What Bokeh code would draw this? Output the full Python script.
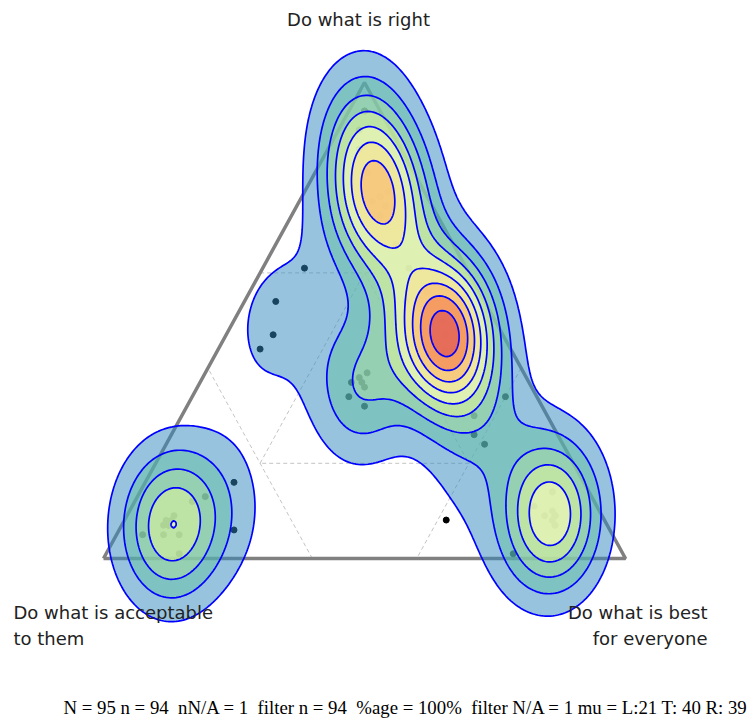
import numpy as np
from bokeh.plotting import figure
from bokeh.models import Range1d
from bokeh.embed import file_html
from bokeh.resources import INLINE
from bokeh.core.properties import value

# ---- data: one response per entry (percent of L / T / R) ----
L_pct = [74, 77, 82, 83, 84, 85, 84, 90, 86, 83, 85,
         84, 84,
         67, 72,
         31, 40, 44, 48,
         30,
         30, 32, 32, 34, 32, 34, 36,
         6, 14, 16, 15, 21,
         11, 9, 9, 10, 12,
         9, 9, 9, 9, 7, 7, 10, 10, 10,
         3, 3, 6, 6, 8, 8, 9, 9, 9, 9, 9, 9, 9, 9, 9, 11, 11, 11, 7, 7,
         11, 11, 11, 10, 15, 9, 10,
         11, 11, 11, 11, 11, 11, 11, 11, 11, 11, 10, 10, 10, 11, 11, 11, 11, 13, 13, 8, 8]
T_pct = [13, 12, 9, 8, 8, 7, 7, 5, 5, 5, 1,
         7, 7,
         16, 6,
         61, 54, 47, 44,
         8,
         39, 38, 37, 37, 36, 32, 34,
         34, 30, 26, 24, 1,
         9, 10, 9, 8, 11,
         9, 9, 9, 9, 14, 14, 7, 7, 8,
         94, 94, 90, 90, 86, 86, 81, 81, 81, 76, 76, 76, 76, 76, 76, 72, 72, 75, 77, 77,
         66, 66, 61, 56, 54, 74, 56,
         47, 47, 47, 47, 47, 47, 47, 47, 47, 47, 50, 50, 50, 44, 44, 44, 44, 44, 44, 48, 48]
R_pct = [13, 11, 9, 9, 8, 8, 9, 5, 9, 12, 14,
         9, 9,
         17, 22,
         8, 6, 9, 8,
         61,
         31, 30, 31, 29, 32, 34, 30,
         60, 56, 58, 61, 78,
         80, 81, 82, 82, 77,
         82, 82, 82, 82, 79, 79, 83, 83, 82,
         3, 3, 4, 4, 6, 6, 10, 10, 10, 15, 15, 15, 15, 15, 15, 17, 17, 14, 16, 16,
         23, 23, 28, 34, 31, 17, 34,
         42, 42, 42, 42, 42, 42, 42, 42, 42, 42, 40, 40, 40, 46, 46, 46, 45, 44, 44, 44, 44]

corner_labels = ["Do what is right", "Do what is acceptable", "to them",
                 "Do what is best", "for everyone"]
footer = "N = 95 n = 94\u00a0 nN/A = 1\u00a0 filter n = 94\u00a0 %age = 100%\u00a0 filter N/A = 1 mu = L:21 T: 40 R: 39"
grid_full = 0.6
grid_inner = 0.2
level_colors = ["#3288bd", "#66c2a5", "#abdda4", "#e6f598", "#ffffbf",
                "#fee08b", "#fdae61", "#f46d43", "#d53e4f"]

assert len(L_pct) == len(T_pct) == len(R_pct) == 94


def tern(l, t, r):
    s = l + t + r
    t = t / s
    r = r / s
    return r + t / 2.0, t


L = np.array(L_pct, float)
T = np.array(T_pct, float)
R = np.array(R_pct, float)
px, py = tern(L, T, R)

# ---- kernel density estimate on a grid ----
gx = np.linspace(-0.3, 1.3, 340)
gy = np.linspace(-0.4, 1.25, 340)
X, Y = np.meshgrid(gx, gy)
sx, sy = 0.064, 0.11
Z = np.zeros_like(X)
for xi, yi in zip(px, py):
    Z += np.exp(-0.5 * (((X - xi) / sx) ** 2 + ((Y - yi) / sy) ** 2))
zmax = Z.max()
step = zmax / 9.7
levels = [step * (k + 1) for k in range(len(level_colors))]

W, H = 748, 720
X0, Y0, SX, SY = 103, 558, 522, 476   # triangle base-left corner and size, pixels

def cx(c):
    return (c - X0) / SX

def cy(c):
    return (Y0 - c) / SY

p = figure(width=W, height=H, output_backend="svg", toolbar_location=None,
           x_axis_location=None, y_axis_location=None, min_border=0,
           x_range=Range1d(cx(0), cx(W)), y_range=Range1d(cy(H), cy(0)))
p.grid.visible = False
p.outline_line_color = None
p.background_fill_color = "white"

# grid lines
g = grid_full
segs = [((g, 0, 1 - g), (g, 1 - g, 0)),
        ((0, 1 - g, g), (1 - g, 0, g)),
        ((1 - g, g, 0), (0, g, 1 - g))]
gi = grid_inner
inner = [(1 - 2 * gi, gi, gi), (gi, 1 - 2 * gi, gi), (gi, gi, 1 - 2 * gi), (1 - 2 * gi, gi, gi)]
xs, ys = [], []
for a, b in segs:
    xa, ya = tern(*a)
    xb, yb = tern(*b)
    xs.append([xa, xb])
    ys.append([ya, yb])
ix, iy = zip(*[tern(*v) for v in inner])
xs.append(list(ix))
ys.append(list(iy))
p.multi_line(xs, ys, line_color="#c4c4c4", line_width=1, line_dash="4 3")

# triangle
tv = [tern(1, 0, 0), tern(0, 0, 1), tern(0, 1, 0), tern(1, 0, 0)]
p.line([v[0] for v in tv], [v[1] for v in tv], line_color="#808080", line_width=3.5)

# points
p.scatter(px, py, size=6, color="black")

# stacked filled contours
for lev, col in zip(levels, level_colors):
    p.contour(gx, gy, Z, levels=[lev, zmax * 1.01], fill_color=[col], fill_alpha=0.5,
              line_color="#0000ff", line_width=1.7)

font = value("DejaVu Sans")
p.text([cx(358)], [cy(19)], text=[corner_labels[0]], text_font=font, text_font_size="18px",
       text_align="center", text_baseline="middle", text_color="#222222")
p.text([cx(13), cx(13)], [cy(612), cy(638)], text=corner_labels[1:3], text_font=font,
       text_font_size="18px", text_align="left", text_baseline="middle", text_color="#222222")
p.text([cx(707), cx(707)], [cy(612), cy(638)], text=corner_labels[3:5], text_font=font,
       text_font_size="18px", text_align="right", text_baseline="middle", text_color="#222222")
p.text([cx(63)], [cy(707)], text=[footer], text_font=value("Liberation Serif"),
       text_font_size="18.8px", text_align="left", text_baseline="middle", text_color="black")

open("out.html", "w").write(file_html(p, INLINE))
